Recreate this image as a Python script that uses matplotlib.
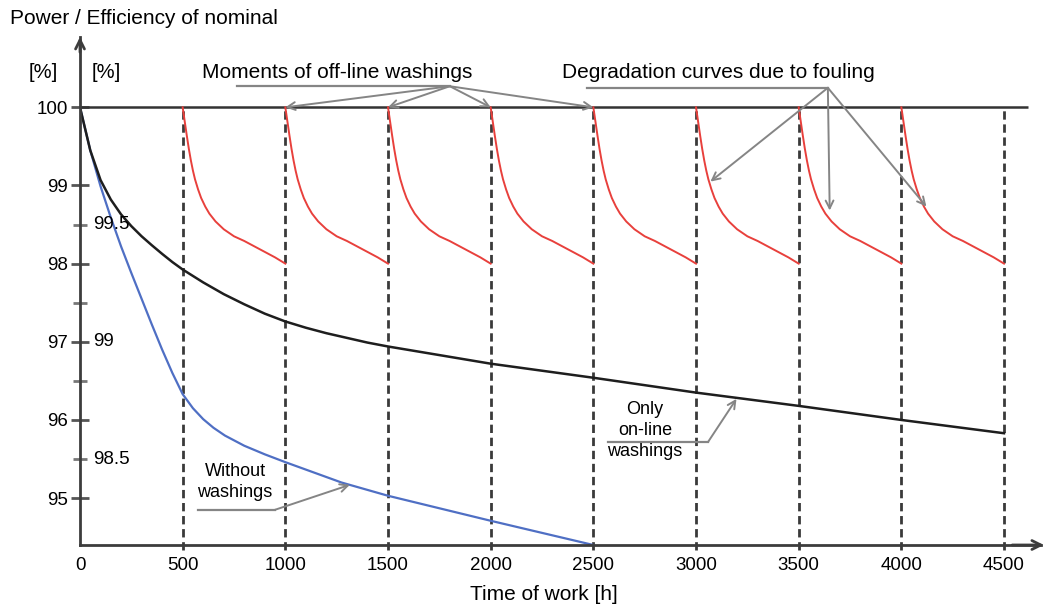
import numpy as np
import matplotlib
matplotlib.use("Agg")
import matplotlib.pyplot as plt
from matplotlib.transforms import blended_transform_factory

plt.rcParams['font.family'] = ['Liberation Sans', 'DejaVu Sans']

# --- data ---
# moments of off-line washings [h]
washing_times = [500, 1000, 1500, 2000, 2500, 3000, 3500, 4000, 4500]

# "Only on-line washings" (black)
online_h = [0, 50, 100, 150, 200, 250, 300, 350, 400, 450, 500, 600, 700, 800, 900,
            1000, 1100, 1200, 1300, 1400, 1500, 2000, 2500, 3000, 3500, 4000, 4500]
online_p = [100.0, 99.45, 99.07, 98.82, 98.63, 98.48, 98.35, 98.235, 98.125, 98.02,
            97.925, 97.76, 97.61, 97.48, 97.36, 97.26, 97.18, 97.11, 97.05, 96.99,
            96.94, 96.72, 96.54, 96.35, 96.18, 96.00, 95.83]

# "Without washings" (blue)
nowash_h = [0, 50, 100, 150, 200, 250, 300, 350, 400, 450, 500, 550, 600, 650, 706,
            800, 900, 1000, 1273, 1500, 2000, 2500]
nowash_p = [100.0, 99.45, 98.99, 98.59, 98.22, 97.88, 97.55, 97.22, 96.90, 96.60,
            96.33, 96.15, 96.01, 95.90, 95.80, 95.67, 95.56, 95.46, 95.20, 95.03,
            94.71, 94.40]

# one degradation curve after an off-line washing (red), offset from washing [h]
fouling_dh = [0, 10, 20, 30, 40, 50, 60, 75, 90, 110, 130, 160, 200, 250, 300,
              350, 400, 450, 500]
fouling_p = [100.0, 99.82, 99.64, 99.47, 99.32, 99.19, 99.08, 98.95, 98.84, 98.73,
             98.64, 98.54, 98.44, 98.35, 98.29, 98.22, 98.15, 98.08, 98.00]

power_ticks = [95, 96, 97, 98, 99, 100]
power_minor = [95.5, 96.5, 97.5, 98.5]
eff_labels = [99.5, 99.0, 98.5]
time_ticks = [0, 500, 1000, 1500, 2000, 2500, 3000, 3500, 4000, 4500]

AX = '#3c3c3c'
GR = '#858585'

fig = plt.figure(figsize=(10.44, 6.08), dpi=100)
ax = fig.add_axes([80/1044, 63/608, 961/1044, 508/608])
ax.set_xlim(0, 4680)
ax.set_ylim(94.4, 100.9)

for s in ['top', 'right']:
    ax.spines[s].set_visible(False)
for s in ['left', 'bottom']:
    ax.spines[s].set_color(AX)
    ax.spines[s].set_linewidth(2)

# axis arrows
ax.annotate('', xy=(0, 1.0), xytext=(0, 0.97), xycoords='axes fraction',
            arrowprops=dict(arrowstyle='->', color=AX, lw=2, mutation_scale=16,
                            shrinkA=0, shrinkB=0), annotation_clip=False)
ax.annotate('', xy=(1.003, 0), xytext=(0.97, 0), xycoords='axes fraction',
            arrowprops=dict(arrowstyle='->', color=AX, lw=2, mutation_scale=16,
                            shrinkA=0, shrinkB=0), annotation_clip=False)

ax.set_yticks(power_ticks)
ax.set_yticks(power_minor, minor=True)
ax.set_yticklabels([str(v) for v in power_ticks])
ax.tick_params(axis='y', which='major', direction='inout', length=13, width=2,
               color='#555555', pad=2, labelsize=13.5)
ax.tick_params(axis='y', which='minor', direction='inout', length=9.5, width=2,
               color='#777777')
ax.set_xticks(time_ticks)
ax.set_xticklabels([str(v) for v in time_ticks])
ax.tick_params(axis='x', length=0, pad=9, labelsize=13.5)

# efficiency scale next to the power scale
tr = blended_transform_factory(ax.transAxes, ax.transData)
for e in eff_labels:
    ax.text(0.0135, 100 - 3 * (100 - e), f'{e:g}', transform=tr, ha='left',
            va='center', fontsize=13.5)

# 100 % line and washing moments
ax.hlines(100, 0, 4615, color='#333333', lw=1.8)
ax.vlines(washing_times, 94.33, 100, colors='#3a3a3a', lw=2,
          linestyles=(0, (3, 1.7)), clip_on=False)

# curves
ax.plot(nowash_h, nowash_p, color='#4f6fc4', lw=1.6)
ax.plot(online_h, online_p, color='#1e1e1e', lw=1.8)
for t0 in washing_times[:-1]:
    ax.plot(np.array(fouling_dh) + t0, fouling_p, color='#e8403c', lw=1.4)

arr = dict(arrowstyle='->', color=GR, lw=1.4, shrinkA=0, shrinkB=0, mutation_scale=14)

# Moments of off-line washings
ax.text(1251, 100.44, 'Moments of off-line washings', ha='center', va='center', fontsize=15)
ax.plot([764, 1801], [100.27, 100.27], color=GR, lw=1.6)
for t in [1000, 1500, 2000, 2500]:
    ax.annotate('', xy=(t, 100), xytext=(1801, 100.27), arrowprops=arr)

# Degradation curves due to fouling
ax.text(3111, 100.44, 'Degradation curves due to fouling', ha='center', va='center', fontsize=15)
ax.plot([2468, 3642], [100.25, 100.25], color=GR, lw=1.6)
for xy in [(3070, 99.05), (3651, 98.68), (4122, 98.73)]:
    ax.annotate('', xy=xy, xytext=(3642, 100.25), arrowprops=arr)

# Without washings
ax.text(755, 95.21, 'Without\nwashings', ha='center', va='center', fontsize=13,
        linespacing=1.3)
ax.plot([576, 949], [94.85, 94.85], color=GR, lw=1.6)
ax.annotate('', xy=(1314, 95.17), xytext=(949, 94.85), arrowprops=arr)

# Only on-line washings
ax.text(2751, 95.86, 'Only\non-line\nwashings', ha='center', va='center', fontsize=13,
        linespacing=1.3)
ax.plot([2572, 3059], [95.72, 95.72], color=GR, lw=1.6)
ax.annotate('', xy=(3197, 96.27), xytext=(3059, 95.72), arrowprops=arr)

# axis titles
fig.text(10/1044, 1 - 18/608, 'Power / Efficiency of nominal', ha='left', va='center', fontsize=15)
fig.text(43/1044, 1 - 73/608, '[%]', ha='center', va='center', fontsize=14.5)
fig.text(106/1044, 1 - 73/608, '[%]', ha='center', va='center', fontsize=14.5)
fig.text(544/1044, 1 - 594/608, 'Time of work [h]', ha='center', va='center', fontsize=15)

fig.savefig('out.png', dpi=100)
